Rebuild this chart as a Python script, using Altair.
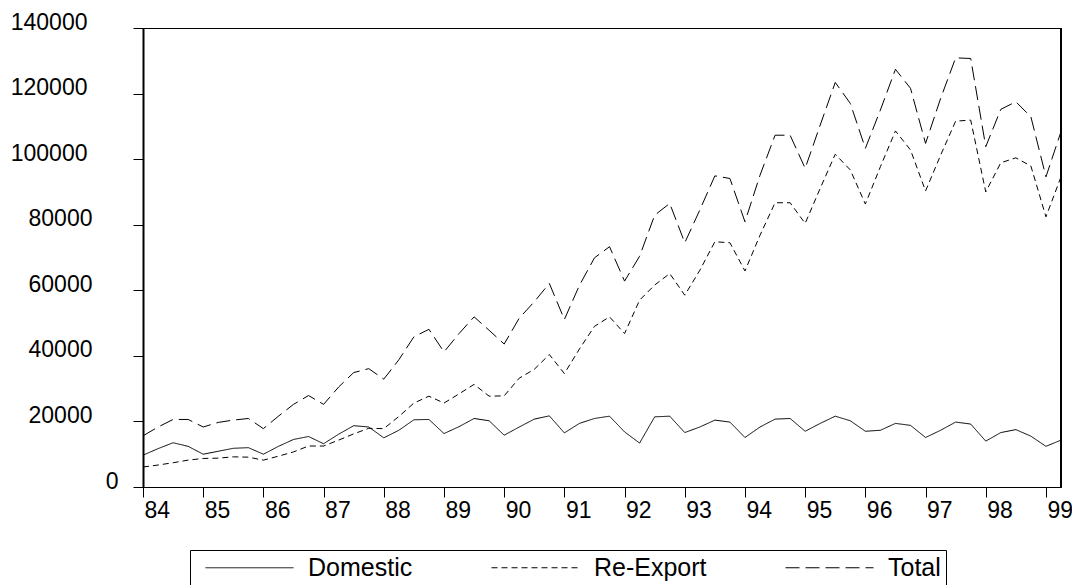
import altair as alt
import pandas as pd

# Quarterly observations, 1984Q1 .. 1999Q2
periods = [1984 + q / 4 for q in range(62)]

domestic = [
    9700, 11700, 13500, 12400, 10000, 10900, 11800, 12000,
    10000, 12400, 14500, 15400, 13200, 16100, 18700, 18300,
    15000, 17300, 20500, 20600, 16300, 18400, 20900, 20200,
    15800, 18300, 20700, 21700, 16500, 19400, 20900, 21600,
    16800, 13400, 21400, 21600, 16600, 18300, 20400, 19800,
    15100, 18300, 20700, 20900, 17000, 19400, 21600, 20200,
    17000, 17300, 19400, 18800, 15100, 17300, 19800, 19200,
    14000, 16600, 17500, 15500, 12400, 14300,
]

re_export = [
    6100, 6700, 7400, 8200, 8700, 8800, 9200, 9100,
    8200, 9400, 10700, 12500, 12500, 14300, 16200, 17900,
    17800, 21500, 25600, 27700, 25600, 28400, 31300, 27700,
    27800, 33200, 35900, 40400, 34600, 42100, 49000, 51900,
    46800, 57000, 61600, 65100, 58500, 66100, 74800, 74500,
    65900, 76800, 86700, 86700, 80400, 91100, 101500, 96700,
    86300, 97700, 108600, 102800, 90300, 101200, 111600, 111900,
    90000, 98900, 100400, 97900, 82400, 94600,
]

total = [
    15600, 18300, 20600, 20600, 18300, 19700, 20400, 20900,
    17800, 21600, 25200, 27900, 25200, 30500, 34900, 36100,
    32900, 38800, 45800, 48100, 41200, 46800, 51900, 47800,
    43600, 51500, 56500, 62100, 51100, 61500, 69900, 73300,
    62800, 70400, 82900, 86500, 74500, 84500, 94900, 94100,
    80900, 95100, 107300, 107300, 97200, 110400, 123400, 117000,
    103300, 115000, 127400, 121600, 104800, 118500, 130900, 130700,
    103800, 115200, 117500, 112900, 94600, 108400,
]

series_names = ["Domestic", "Re-Export", "Total"]
dash_patterns = [[1, 0], [6, 4], [14, 6]]
y_ticks = [0, 20000, 40000, 60000, 80000, 100000, 120000, 140000]

rows = []
for name, values in zip(series_names, [domestic, re_export, total]):
    for t, v in zip(periods, values):
        rows.append({"period": t, "value": v, "series": name})
df = pd.DataFrame(rows)

FONT = "Liberation Sans"

x_axis = alt.Axis(
    values=periods,
    labelExpr="datum.value % 1 == 0 ? '' + (datum.value % 100) : ''",
    title=None,
    grid=False,
    domainColor="black",
    domainWidth=1,
    tickColor="black",
    tickWidth=1,
    tickSize={"condition": {"test": "datum.value % 1 == 0", "value": 10}, "value": 6},
    labelFont=FONT,
    labelFontSize=23,
    labelColor="black",
    labelAlign="left",
    labelBaseline="top",
    labelPadding=2,
    labelOffset=1,
    labelFlush=False,
    labelOverlap=False,
    labelBound=False,
)

y_axis = alt.Axis(
    values=y_ticks,
    format="d",
    title=None,
    grid=False,
    domainColor="black",
    domainWidth=2,
    tickColor="black",
    tickWidth=1,
    tickSize=10,
    labelFont=FONT,
    labelFontSize=23,
    labelColor="black",
    labelAlign="right",
    labelBaseline="middle",
    labelOffset=-6,
    labelPadding={
        "condition": [
            {"test": "datum.value == 0", "value": 15},
            {"test": "datum.value >= 100000", "value": 46},
        ],
        "value": 41,
    },
    labelFlush=False,
    labelOverlap=False,
    labelBound=False,
)

# long horizontal stroke used as the legend key (drawn wider than the symbol box)
LEGEND_KEY = "M-8,0H8"

legend = alt.Legend(
    orient="none",
    legendX=47,
    legendY=522,
    direction="horizontal",
    columns=3,
    title=None,
    symbolType=LEGEND_KEY,
    symbolSize=121,
    symbolStrokeWidth=1,
    symbolStrokeColor="black",
    symbolFillColor="transparent",
    symbolOffset=42,
    labelFont=FONT,
    labelFontSize=25,
    labelColor="black",
    labelOffset=46,
    labelLimit=0,
    columnPadding=68,
    padding=5,
    strokeColor="black",
    fillColor="white",
)

lines = alt.Chart(df).mark_line(color="black", strokeWidth=1).encode(
    x=alt.X("period:Q", scale=alt.Scale(domain=[1984, 1999.25], nice=False, zero=False), axis=x_axis),
    y=alt.Y("value:Q", scale=alt.Scale(domain=[0, 140000], nice=False), axis=y_axis),
    strokeDash=alt.StrokeDash(
        "series:N",
        scale=alt.Scale(domain=series_names, range=dash_patterns),
        legend=legend,
    ),
    order="period:Q",
)

# heavier right edge of the plot frame
right_edge = alt.Chart(df).mark_rule(color="black", strokeWidth=2).encode(
    x=alt.datum(1999.25)
)

chart = (
    alt.layer(lines, right_edge)
    .properties(
        width=918,
        height=459,
        padding={"left": 143, "top": 28, "right": 11, "bottom": 98},
        autosize=alt.AutoSizeParams(type="none"),
        background="white",
    )
    .configure_view(stroke="black", strokeWidth=1)
)

chart.save("out.html", embed_options={"renderer": "svg", "actions": False})
